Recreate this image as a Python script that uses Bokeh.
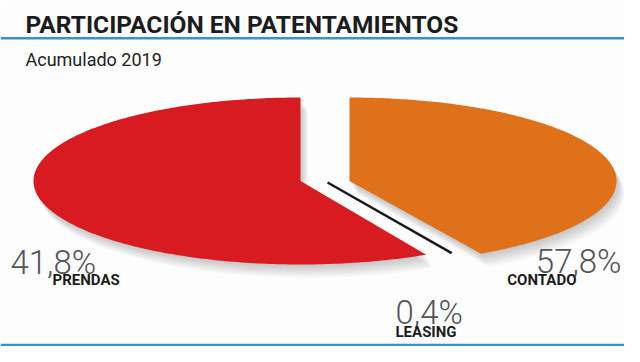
import numpy as np
from bokeh.plotting import figure
from bokeh.models import Range1d, ColumnDataSource
from bokeh.core.properties import value
from bokeh.embed import file_html
from bokeh.resources import INLINE

# ---------------- data ----------------
title = "PARTICIPACIÓN EN PATENTAMIENTOS"
subtitle = "Acumulado 2019"
categories = ["PRENDAS", "CONTADO", "LEASING"]
shares = [41.8, 57.8, 0.4]           # labelled shares (%)
# wedges as drawn in the source graphic, clockwise from 12 o'clock
slice_names = ["orange", "leasing", "red"]
slice_shares = [41.8, 0.4, 57.8]
slice_colors = ["#e0711b", "#1a1a1a", "#d71b21"]

# ---------------- layout ----------------
W, H = 624, 346
CX, CY = 324.5, 180.5               # pie centre in frame pixels
RX, RY = 267.0, 83.5                # ellipse radii in pixels
EXPLODE = 24.5 / RX                 # horizontal explode, data units
TEXT_DY = 8.5                       # renderer draws text ~8.5px low


def fx(px):
    return (px - CX) / RX


def fy(py):
    return (CY - py) / RY


def fty(py):
    return fy(py - TEXT_DY)


p = figure(width=W, height=H, output_backend="svg", toolbar_location=None,
           x_range=Range1d(fx(0), fx(W)),
           y_range=Range1d(fy(H), fy(0)),
           min_border=0)
p.axis.visible = False
p.grid.visible = False
p.outline_line_color = None
p.background_fill_color = "#fdfdfd"
p.border_fill_color = "#fdfdfd"

# ---------------- pie geometry from shares ----------------
bounds = np.cumsum([0] + slice_shares) / 100.0
start_deg = 90.0
wedges = {}
for i, name in enumerate(slice_names):
    a0 = np.radians(start_deg - 360 * bounds[i])
    a1 = np.radians(start_deg - 360 * bounds[i + 1])
    wedges[name] = (a0, a1)

offsets = {"orange": EXPLODE, "red": -EXPLODE, "leasing": 0.0}


def wedge_poly(a0, a1, dx):
    t = np.linspace(a0, a1, 240)
    xs = np.concatenate([[dx], dx + np.cos(t)])
    ys = np.concatenate([[0.0], np.sin(t)])
    return xs, ys


# soft shadows
for name in ("red", "orange"):
    a0, a1 = wedges[name]
    xs, ys = wedge_poly(a0, a1, offsets[name])
    for k in range(1, 12):
        p.patch(xs + k * 0.7 / RX, ys - k * 1.2 / RY, fill_color="#3a3a3a",
                fill_alpha=0.022, line_color=None)

for name, col in zip(slice_names, slice_colors):
    a0, a1 = wedges[name]
    if name == "leasing":
        mid = 0.5 * (a0 + a1)
        r = np.array([0.02, 0.985])
        p.line(r * np.cos(mid), r * np.sin(mid), line_color=col,
               line_width=2.5)
    else:
        xs, ys = wedge_poly(a0, a1, offsets[name])
        p.patch(xs, ys, fill_color=col, line_color=None)

# ---------------- rules ----------------
xr = [p.x_range.start, p.x_range.end]
for yy in (37.8, 344.6):
    p.line(xr, [fy(yy)] * 2, line_color="#3a93c0", line_width=2.5)

# ---------------- texts ----------------
p.text(x=[fx(25)], y=[fty(32)], text=[title], text_font=value("Roboto"),
       text_font_style="bold", text_font_size="24.5px", text_color="#1c1c1c",
       text_baseline="alphabetic", text_align="left")
p.text(x=[fx(25)], y=[fty(67.5)], text=[subtitle], text_font=value("Roboto"),
       text_font_size="18px", text_color="#222222",
       text_baseline="alphabetic", text_align="left")


def fmt(v):
    return f"{v:.1f}".replace(".", ",") + "%"


pct = ColumnDataSource(dict(
    x=[fx(10), fx(621), fx(395)],
    y=[fty(270), fty(269), fty(320)],
    t=[fmt(v) for v in shares],
    align=["left", "right", "left"],
))
p.text(x="x", y="y", text="t", source=pct, text_font=value("Roboto Light"),
       text_font_size="33px", text_color="#555555",
       text_baseline="alphabetic", text_align="align")

lab = ColumnDataSource(dict(
    x=[fx(52), fx(576), fx(395)],
    y=[fty(288), fty(288), fty(339.5)],
    t=categories,
    align=["left", "right", "left"],
))
p.text(x="x", y="y", text="t", source=lab, text_font=value("Roboto"),
       text_font_style="bold", text_font_size="15px", text_color="#1c1c1c",
       text_baseline="alphabetic", text_align="align")

open("out.html", "w").write(file_html(p, INLINE))
